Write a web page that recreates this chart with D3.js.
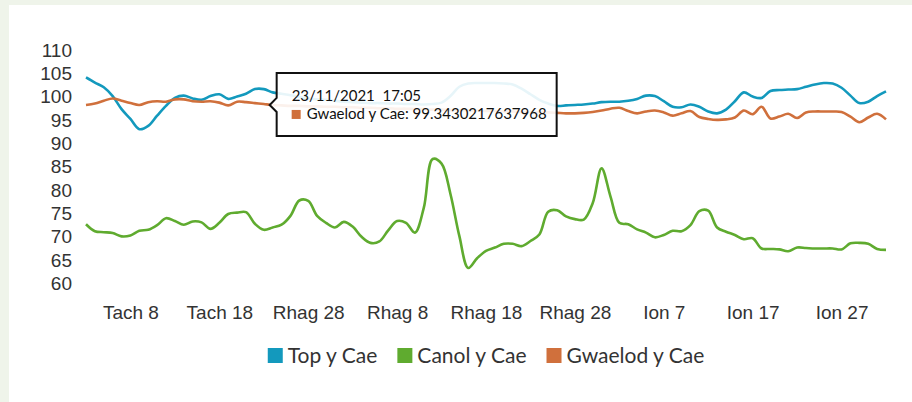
<!DOCTYPE html>
<html>
<head>
<meta charset="utf-8">
<script src="https://cdn.jsdelivr.net/npm/d3@7"></script>
<style>
  body { margin: 0; background: #eff4ea; }
  svg { display: block; font-family: Lato, "DejaVu Sans", sans-serif; }
</style>
</head>
<body>
<svg width="912" height="402"></svg>
<script>
// one reading per day, starting 3 Nov
var topYCae = [104.0, 102.9, 101.9, 100.0, 97.2, 95.1, 92.9, 93.6, 95.8, 97.9,
  99.6, 100.1, 99.5, 99.2, 100.0, 100.4, 99.4, 99.9, 100.5, 101.5,
  101.5, 100.8, 100.5, 100.2, 99.8, 99.5, 99.3, 99.2, 99.0, 98.8,
  98.7, 98.6, 98.5, 98.5, 98.4, 98.4, 98.3, 98.3, 98.2, 98.3,
  98.6, 100.0, 102.0, 102.7, 102.8, 102.8, 102.8, 102.7, 102.5, 101.6,
  100.4, 99.2, 98.4, 97.9, 98.0, 98.1, 98.2, 98.4, 98.7, 98.8,
  98.8, 99.0, 99.4, 100.1, 100.0, 98.9, 97.7, 97.6, 98.2, 97.7,
  96.7, 96.3, 97.1, 98.9, 100.8, 99.9, 99.6, 101.1, 101.3, 101.4,
  101.5, 102.0, 102.5, 102.8, 102.7, 101.8, 100.1, 98.5, 98.8, 100.0,
  101.0];

var canolYCae = [72.5, 71.0, 70.8, 70.6, 69.9, 70.1, 71.1, 71.3, 72.3, 73.8,
  73.2, 72.4, 73.1, 72.9, 71.5, 72.8, 74.7, 75.0, 75.1, 72.6,
  71.3, 71.8, 72.4, 74.3, 77.6, 77.5, 74.3, 72.8, 71.8, 73.0,
  72.0, 69.8, 68.5, 68.8, 71.2, 73.2, 72.8, 70.7, 76.0, 86.5,
  85.5, 79.0, 70.0, 63.1, 65.2, 66.8, 67.5, 68.3, 68.3, 67.8,
  68.9, 70.3, 75.2, 75.5, 74.2, 73.6, 73.5, 77.0, 84.5, 78.5,
  72.8, 72.5, 71.4, 70.7, 69.7, 70.2, 71.1, 71.0, 72.3, 75.3,
  75.4, 71.8, 70.9, 70.2, 69.3, 69.5, 67.3, 67.2, 67.1, 66.7,
  67.5, 67.4, 67.3, 67.3, 67.3, 67.1, 68.4, 68.5, 68.3, 67.2,
  67.0];

var gwaelodYCae = [98.1, 98.4, 99.0, 99.5, 99.0, 98.5, 98.1, 98.7, 98.9, 98.8,
  99.3, 99.3, 98.9, 98.8, 98.9, 98.6, 98.0, 98.8, 98.7, 98.5,
  98.3, 98.1, 98.0, 97.9, 97.9, 97.8, 97.8, 97.7, 97.7, 97.6,
  97.6, 97.5, 97.5, 97.4, 97.4, 97.3, 97.3, 97.2, 97.2, 97.1,
  97.1, 97.0, 97.0, 96.9, 96.9, 96.8, 96.8, 96.7, 96.7, 96.6,
  96.6, 96.5, 96.5, 96.4, 96.3, 96.3, 96.4, 96.6, 96.9, 97.3,
  97.5, 96.8, 96.3, 96.7, 96.9, 96.5, 95.8, 96.3, 96.8, 95.5,
  95.1, 94.9, 95.0, 95.4, 96.9, 96.1, 97.7, 95.2, 95.6, 96.2,
  95.3, 96.5, 96.7, 96.7, 96.7, 96.6, 95.6, 94.4, 95.4, 96.2,
  95.0];

var seriesNames = ["Top y Cae", "Canol y Cae", "Gwaelod y Cae"];
var seriesColors = ["#1399bd", "#5fab2f", "#d0703c"];

var tickDays = [5, 15, 25, 35, 45, 55, 65, 75, 85];
var tickLabels = ["Tach 8", "Tach 18", "Rhag 28", "Rhag 8", "Rhag 18", "Rhag 28", "Ion 7", "Ion 17", "Ion 27"];
var yTicks = [60, 65, 70, 75, 80, 85, 90, 95, 100, 105, 110];

// tooltip snapshot (hovered point)
var tipDay = 21;
var tipDate = "23/11/2021\u00a0\u00a017:05";
var tipSeries = 2;
var tipValue = "99.3430217637968";

var svg = d3.select("svg"),
  width = +svg.attr("width"),
  height = +svg.attr("height");

// white card on the pale green page
svg.append("rect")
  .attr("x", 9).attr("y", 5)
  .attr("width", width - 9).attr("height", height - 5)
  .attr("fill", "#fff");

var x = d3.scaleLinear().domain([0, 90]).range([86, 886]);
var y = d3.scaleLinear().domain([60, 110]).range([282.5, 49.5]);

var yAxis = svg.append("g")
  .attr("transform", "translate(76,0)")
  .call(d3.axisLeft(y).tickValues(yTicks).tickSize(0).tickPadding(4));
yAxis.select(".domain").remove();
yAxis.selectAll("text")
  .attr("fill", "#333")
  .style("font-size", "19px")
  .attr("dy", "0.36em");

var xAxis = svg.append("g")
  .attr("transform", "translate(0,300)")
  .call(d3.axisBottom(x).tickValues(tickDays)
    .tickFormat(function(d, i) { return tickLabels[i]; })
    .tickSize(0).tickPadding(6));
xAxis.select(".domain").remove();
xAxis.selectAll("text")
  .attr("fill", "#333")
  .style("font-size", "19px");

var line = d3.line()
  .x(function(d, i) { return x(i); })
  .y(function(d) { return y(d); })
  .curve(d3.curveCatmullRom.alpha(0.5));

var allSeries = [topYCae, canolYCae, gwaelodYCae];

svg.append("g")
  .selectAll("path")
  .data(allSeries)
  .enter().append("path")
  .attr("d", line)
  .attr("fill", "none")
  .attr("stroke", function(d, i) { return seriesColors[i]; })
  .attr("stroke-width", 2.6)
  .attr("stroke-linejoin", "round");

// legend
var legend = svg.append("g").attr("transform", "translate(0,356)");
var items = legend.selectAll("g")
  .data(seriesNames)
  .enter().append("g");
items.append("rect")
  .attr("width", 15).attr("height", 15)
  .attr("y", -8)
  .attr("fill", function(d, i) { return seriesColors[i]; });
items.append("text")
  .attr("x", 20)
  .attr("dy", "0.35em")
  .attr("fill", "#333")
  .style("font-size", "21px")
  .text(function(d) { return d; });

var gap = 20, pos = 0, offsets = [];
items.each(function() {
  offsets.push(pos);
  pos += this.getBBox().width + gap;
});
var legendStart = (x.range()[0] + x.range()[1]) / 2 - (pos - gap) / 2;
items.attr("transform", function(d, i) { return "translate(" + (legendStart + offsets[i]) + ",0)"; });

// tooltip
var tipX = x(tipDay) - 3, tipY = y(allSeries[tipSeries][tipDay]);
var bx = tipX + 7, by = tipY - 32, bw = 280, bh = 63;
var tip = svg.append("g");
tip.append("path")
  .attr("d", "M" + bx + "," + by + "H" + (bx + bw) + "V" + (by + bh) + "H" + bx +
    "V" + (tipY + 7) + "L" + tipX + "," + tipY + "L" + bx + "," + (tipY - 7) + "Z")
  .attr("fill", "#fff")
  .attr("fill-opacity", 0.9)
  .attr("stroke", "#111")
  .attr("stroke-width", 2);
tip.append("text")
  .attr("x", bx + 15).attr("y", by + 28)
  .attr("fill", "#111")
  .style("font-size", "15px")
  .text(tipDate);
tip.append("rect")
  .attr("x", bx + 15).attr("y", by + 37)
  .attr("width", 9).attr("height", 9)
  .attr("fill", seriesColors[tipSeries]);
tip.append("text")
  .attr("x", bx + 30).attr("y", by + 46)
  .attr("fill", "#111")
  .style("font-size", "15px")
  .text(seriesNames[tipSeries] + ": " + tipValue);
</script>
</body>
</html>
